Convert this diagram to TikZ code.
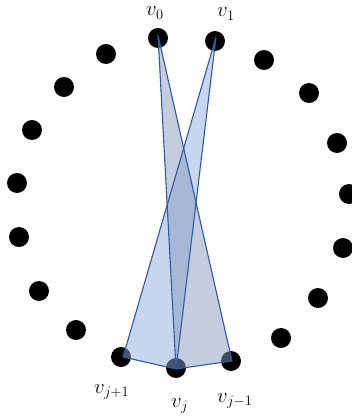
\documentclass[tikz,border=0pt]{standalone}
\begin{document}
\begin{tikzpicture}[x=1pt,y=-1pt,
  dot/.style={circle,fill=black,inner sep=0pt,minimum size=20pt},
  lab/.style={inner sep=0pt,anchor=base west,font=\fontsize{22}{26}\selectfont}]
\definecolor{edgeblue}{HTML}{3358A0}
\definecolor{fillA}{RGB}{135,155,191}
\definecolor{fillB}{RGB}{143,173,223}
\tikzset{edge/.style={draw=edgeblue,line width=1.1pt,line join=round}}
\useasboundingbox (0,0) rectangle (352,420);
% dots
\node[dot] (v0) at (158,38) {};
\node[dot] (v1) at (215,41) {};
\node[dot] (d2) at (264,60) {};
\node[dot] (d3) at (309,93) {};
\node[dot] (d4) at (337,143) {};
\node[dot] (d5) at (349,194) {};
\node[dot] (d6) at (343,248) {};
\node[dot] (d7) at (318,298) {};
\node[dot] (d8) at (281,338) {};
\node[dot] (vjm) at (231,361) {};
\node[dot] (vj) at (176,368) {};
\node[dot] (vjp) at (121,357) {};
\node[dot] (d12) at (76,330) {};
\node[dot] (d13) at (39,291) {};
\node[dot] (d14) at (19,237) {};
\node[dot] (d15) at (17,183) {};
\node[dot] (d16) at (32,130) {};
\node[dot] (d17) at (64,87) {};
\node[dot] (d18) at (106,54) {};
% triangle corners
\coordinate (a0) at (158,35);
\coordinate (a1) at (216,37);
\coordinate (bj) at (176,369);
\coordinate (bjm) at (232,361);
\coordinate (bjp) at (123,357);
\fill[fillB,fill opacity=0.5] (a1) -- (bjp) -- (bj) -- cycle;
\fill[fillA,fill opacity=0.5] (a0) -- (bj) -- (bjm) -- cycle;
\draw[edge] (a1) -- (bjp) -- (bj) -- cycle;
\draw[edge] (a0) -- (bj) -- (bjm) -- cycle;
% labels
\node[lab] (l0) at (146,16) {$v_0$};
\node[lab] (l1) at (217,17) {$v_1$};
\node[lab] (ljp) at (94,393) {$v_{j+1}$};
\node[lab] (lj) at (171,407) {$v_j$};
\node[lab] (ljm) at (217,402) {$v_{j-1}$};
\end{tikzpicture}
\end{document}
